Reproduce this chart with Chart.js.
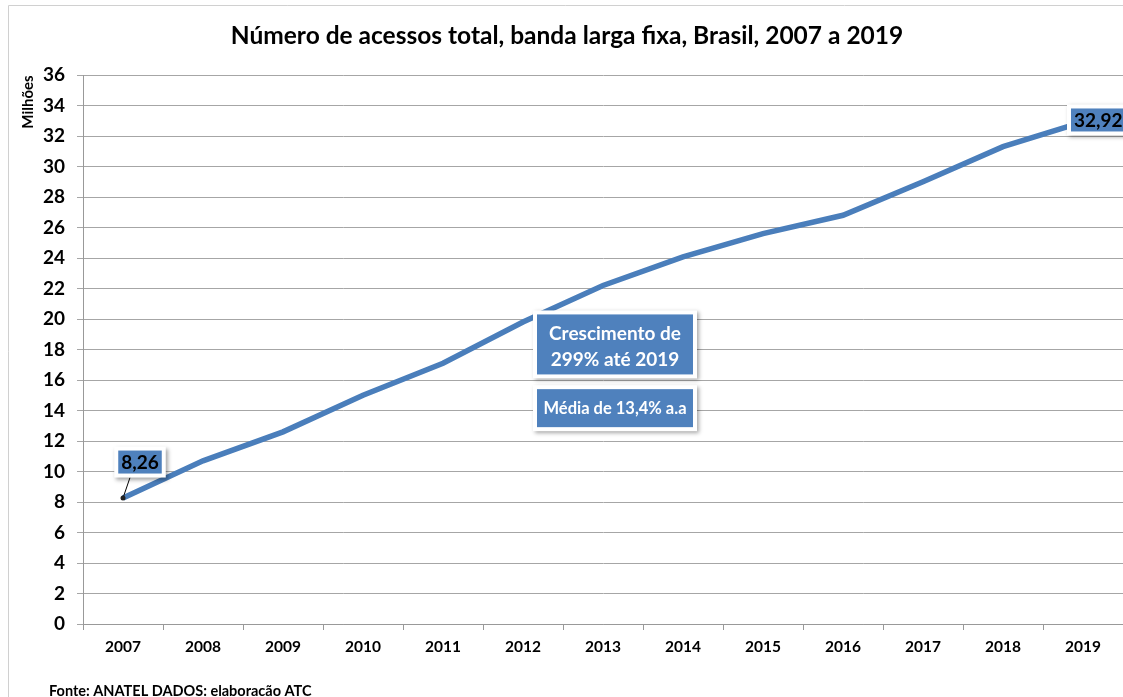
<!DOCTYPE html>
<html>
<head>
<meta charset="utf-8">
<script src="https://cdn.jsdelivr.net/npm/chart.js@4"></script>
<style>
  html, body { margin: 0; padding: 0; background: #fff; }
  #wrap { position: relative; width: 1123px; height: 697px; overflow: hidden; }
</style>
</head>
<body>
<div id="wrap"><canvas id="c"></canvas></div>
<script>
// ── data ───────────────────────────────────────────
const years = ["2007", "2008", "2009", "2010", "2011", "2012", "2013",
               "2014", "2015", "2016", "2017", "2018", "2019"];
const acessos = [8.26, 10.7, 12.6, 15.0, 17.1, 19.8, 22.2, 24.07, 25.6, 26.8, 29.0, 31.3, 32.92];
const labelledPoints = [0, 12];
const chartTitle = "Número de acessos total, banda larga fixa, Brasil, 2007 a 2019";
const yTitle = "Milhões";
const source = "Fonte: ANATEL DADOS: elaboracão ATC";
const notes = [["Crescimento de", "299% até 2019"], ["Média de 13,4% a.a"]];

const FONT = "Lato, 'Open Sans', sans-serif";
const BLUE = "#4f81bd";

const fmt = v => v.toFixed(2).replace(".", ",");

// white-edged blue box with drop shadow, Excel style
function box(ctx, x, y, w, h) {
  ctx.save();
  ctx.shadowColor = "rgba(0,0,0,0.35)";
  ctx.shadowBlur = 4;
  ctx.shadowOffsetX = 2;
  ctx.shadowOffsetY = 2;
  ctx.fillStyle = "#fff";
  ctx.fillRect(x - 4, y - 4, w + 8, h + 8);
  ctx.restore();
  ctx.fillStyle = BLUE;
  ctx.fillRect(x, y, w, h);
}

const decor = {
  id: "decor",
  beforeDraw(chart) {
    const ctx = chart.ctx;
    ctx.save();
    ctx.strokeStyle = "#d0d0d0";
    ctx.lineWidth = 1;
    ctx.beginPath();
    ctx.moveTo(8.5, 697); ctx.lineTo(8.5, 5.5); ctx.lineTo(1123, 5.5);
    ctx.stroke();
    ctx.restore();
  },
  afterDraw(chart) {
    const ctx = chart.ctx;
    const xs = chart.scales.x, ys = chart.scales.y;
    ctx.save();

    // title
    ctx.fillStyle = "#000";
    ctx.font = "bold 24.5px " + FONT;
    ctx.textAlign = "center";
    ctx.textBaseline = "middle";
    ctx.fillText(chartTitle, 567, 36);

    // y title
    ctx.save();
    ctx.translate(28, 102);
    ctx.rotate(-Math.PI / 2);
    ctx.font = "bold 15px " + FONT;
    ctx.fillText(yTitle, 0, 0);
    ctx.restore();

    // source
    ctx.textAlign = "left";
    ctx.textBaseline = "alphabetic";
    ctx.font = "bold 14.5px " + FONT;
    ctx.fillText(source, 49, 696);

    // data labels
    ctx.font = "bold 19px " + FONT;
    ctx.textAlign = "center";
    ctx.textBaseline = "middle";
    labelledPoints.forEach(i => {
      const px = xs.getPixelForValue(i), py = ys.getPixelForValue(acessos[i]);
      const txt = fmt(acessos[i]);
      const w = ctx.measureText(txt).width + 6, h = 23;
      let cx, cy;
      if (i === 0) {
        cx = px + 17; cy = py - 36;
        ctx.strokeStyle = "#000";
        ctx.lineWidth = 1;
        ctx.beginPath();
        ctx.moveTo(cx - 10, cy + h / 2 + 4);
        ctx.lineTo(px, py);
        ctx.stroke();
        ctx.fillStyle = "#222";
        ctx.beginPath(); ctx.arc(px, py, 2.5, 0, Math.PI * 2); ctx.fill();
      } else {
        cx = px - 12 + w / 2; cy = py - 2;
      }
      box(ctx, cx - w / 2, cy - h / 2, w, h);
      ctx.fillStyle = "#000";
      ctx.fillText(txt, cx, cy + 1);
    });

    // growth notes
    const cx = (xs.getPixelForValue(6) + xs.getPixelForValue(5)) / 2 + 52;
    box(ctx, cx - 78, ys.getPixelForValue(20.3), 156, 60);
    ctx.fillStyle = "#fff";
    ctx.font = "bold 19px " + FONT;
    ctx.fillText(notes[0][0], cx, ys.getPixelForValue(19.0));
    ctx.fillText(notes[0][1], cx, ys.getPixelForValue(17.35));
    box(ctx, cx - 78, ys.getPixelForValue(15.4), 156, 38);
    ctx.fillStyle = "#fff";
    ctx.font = "bold 16.5px " + FONT;
    ctx.fillText(notes[1][0], cx, ys.getPixelForValue(14.15));

    ctx.restore();
  }
};

new Chart(document.getElementById("c"), {
  type: "line",
  data: {
    labels: years,
    datasets: [{
      data: acessos,
      borderColor: "#4a7ebb",
      borderWidth: 5.5,
      pointRadius: 0,
      tension: 0,
      fill: false,
    }],
  },
  options: {
    responsive: true,
    maintainAspectRatio: false,
    animation: false,
    layout: { padding: { top: 75, left: 0, right: 0, bottom: 0 } },
    plugins: { legend: { display: false }, tooltip: { enabled: false }, title: { display: false } },
    scales: {
      x: {
        type: "category",
        offset: true,
        afterFit: s => { s.height = 73; },
        grid: { offset: true, drawOnChartArea: false, tickLength: 6, color: "#999" },
        border: { color: "#999" },
        ticks: { color: "#000", font: { family: FONT, size: 15.5, weight: "bold" }, padding: 8, maxRotation: 0 },
      },
      y: {
        min: 0,
        max: 36,
        afterFit: s => { s.width = 83; },
        grid: { color: "#a6a6a6", tickLength: 6 },
        border: { color: "#999" },
        ticks: { stepSize: 2, color: "#000", font: { family: FONT, size: 19, weight: "bold" }, padding: 12 },
      },
    },
  },
  plugins: [decor],
});
</script>
</body>
</html>
